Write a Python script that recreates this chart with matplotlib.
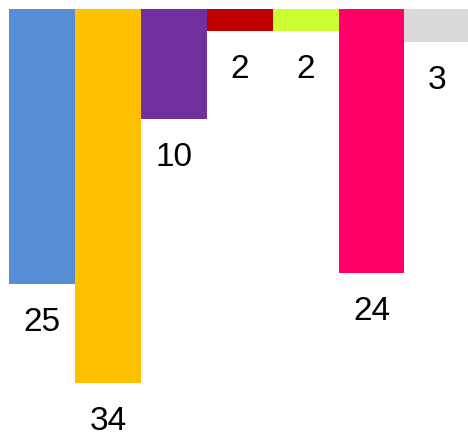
import matplotlib
matplotlib.use("Agg")
import matplotlib.pyplot as plt

# =====================================================
# DADOS
# =====================================================

values = [25, 34, 10, 2, 2, 24, 3]
colors = ["#558ED5", "#FFC000", "#7030A0", "#C00000", "#CCFF33", "#FF0066", "#D9D9D9"]

# =====================================================
# FIGURA
# =====================================================

W, H = 468, 432
DPI = 100
fig = plt.figure(figsize=(W / DPI, H / DPI), dpi=DPI)

px_unit = 11.0
bar_px = 65.9
left_px = 9
top_px = 9

ax = fig.add_axes([left_px / W, 0, len(values) * bar_px / W, 1 - top_px / H])
ax.set_xlim(-0.5, len(values) - 0.5)
ax.set_ylim((H - top_px) / px_unit, 0)

x = list(range(len(values)))
ax.bar(x, values, width=1.0, color=colors, linewidth=0)

for xi, v in zip(x, values):
    ax.annotate(
        str(v),
        xy=(xi, v),
        xytext=(0, -33.8),
        textcoords="offset points",
        ha="center",
        va="baseline",
        fontsize=24,
        family="Liberation Sans",
        color="black",
    )

ax.axis("off")

fig.savefig("out.png", dpi=DPI)
